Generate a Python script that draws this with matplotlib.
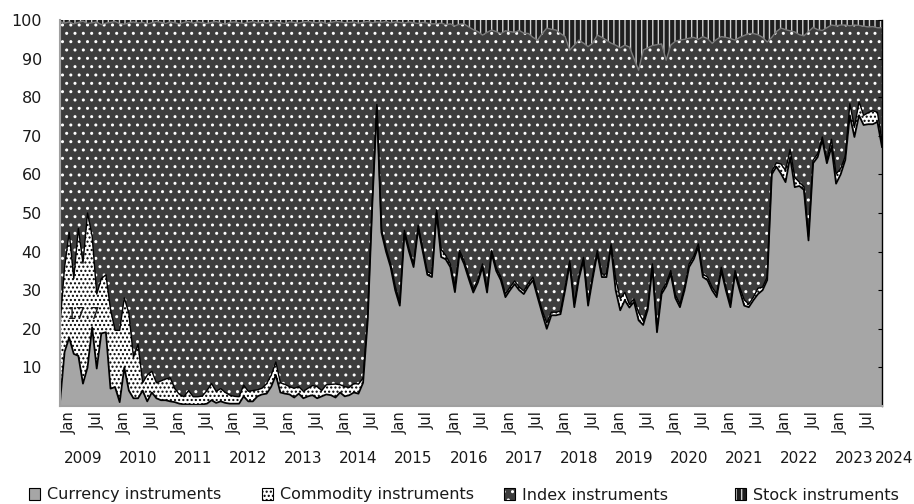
import numpy as np
import pandas as pd
import matplotlib
matplotlib.use("Agg")
import matplotlib.pyplot as plt
import matplotlib.patches as mpatches
import matplotlib.transforms as mtransforms

plt.rcParams["font.family"] = ["DejaVu Sans"]
plt.rcParams["hatch.linewidth"] = 1.0

# Monthly observations (share of outstanding instruments, %)
months = pd.date_range("2008-11-01", periods=180, freq="MS")

# one row per 12 months, starting Nov 2008
currency = [
    1.0, 14.0, 17.7, 13.5, 13.0, 5.8, 10.0, 20.4, 9.7, 18.8, 19.1, 4.5,
    4.9, 1.0, 10.0, 4.0, 2.0, 2.0, 4.0, 1.2, 3.5, 2.0, 1.5, 1.5,
    1.2, 1.0, 0.6, 0.4, 0.4, 0.3, 0.3, 0.4, 0.6, 1.5, 0.8, 1.2,
    0.8, 0.6, 0.6, 0.6, 2.5, 1.2, 1.2, 2.5, 3.0, 3.2, 5.0, 8.0,
    3.5, 3.2, 3.0, 2.2, 3.2, 2.0, 2.5, 2.8, 2.0, 2.5, 3.0, 2.8,
    2.2, 3.5, 2.5, 2.8, 3.5, 3.2, 6.0, 22.0, 52.0, 77.5, 45.0, 40.0,
    36.0, 30.0, 26.0, 44.7, 40.0, 36.0, 46.0, 40.0, 34.0, 33.4, 50.0, 38.6,
    38.0, 36.0, 29.5, 39.5, 36.8, 33.0, 29.4, 32.0, 36.0, 29.4, 39.5, 35.0,
    32.6, 28.2, 30.0, 31.6, 30.0, 29.0, 31.0, 32.6, 28.2, 24.0, 20.0, 23.5,
    23.5, 23.8, 30.0, 36.8, 25.6, 33.0, 37.7, 26.0, 33.0, 39.5, 33.4, 33.4,
    41.2, 30.0, 24.8, 27.4, 25.5, 27.0, 22.2, 21.0, 25.0, 36.0, 19.1, 29.0,
    31.0, 34.3, 28.0, 25.6, 30.0, 36.0, 38.0, 41.2, 33.4, 32.6, 30.0, 28.2,
    35.1, 30.0, 25.6, 34.3, 30.0, 26.0, 25.6, 27.4, 29.0, 30.0, 32.6, 60.0,
    62.0, 60.2, 58.0, 64.5, 56.7, 57.0, 56.0, 42.9, 62.9, 64.5, 68.9, 62.9,
    67.1, 57.6, 60.0, 63.7, 75.3, 69.7, 75.3, 72.8, 73.0, 73.0, 73.6, 67.1,
]

commodity = [
    20.0, 22.0, 27.3, 19.5, 33.0, 31.2, 40.0, 23.6, 19.3, 14.2, 14.9, 20.5,
    14.7, 18.6, 18.0, 20.0, 10.6, 14.0, 2.0, 6.8, 5.5, 4.0, 5.0, 5.5,
    6.1, 3.5, 2.4, 2.0, 3.6, 2.1, 2.1, 2.2, 3.4, 4.3, 3.0, 3.3,
    2.7, 2.2, 1.9, 1.8, 2.9, 2.6, 2.8, 1.7, 1.6, 2.6, 3.0, 3.4,
    2.5, 2.4, 2.0, 2.4, 1.8, 1.8, 2.1, 2.5, 3.0, 1.5, 2.5, 2.8,
    3.5, 2.0, 2.5, 2.0, 2.3, 2.5, 1.2, 1.0, 0.8, 0.6, 0.8, 0.8,
    0.8, 1.0, 0.8, 0.8, 0.8, 0.8, 0.8, 0.8, 0.8, 0.8, 0.8, 2.0,
    1.0, 0.8, 1.5, 0.8, 0.8, 0.8, 0.8, 0.8, 0.8, 0.8, 0.8, 0.8,
    0.8, 0.8, 0.8, 0.8, 0.8, 0.8, 0.8, 0.8, 0.8, 0.8, 1.5, 0.8,
    0.8, 0.8, 0.8, 0.8, 0.8, 0.8, 0.8, 0.8, 0.8, 0.8, 0.8, 0.8,
    0.8, 3.0, 3.0, 2.0, 0.8, 0.8, 2.0, 1.0, 0.8, 0.8, 0.8, 0.8,
    0.8, 0.8, 0.8, 0.8, 0.8, 0.8, 0.8, 0.8, 0.8, 0.8, 0.8, 0.8,
    0.8, 0.8, 0.8, 0.8, 0.8, 1.5, 0.8, 0.8, 1.5, 0.8, 0.8, 0.8,
    1.0, 2.5, 3.0, 2.0, 2.5, 1.0, 0.8, 1.0, 0.8, 0.8, 0.8, 0.8,
    2.0, 2.5, 1.5, 1.0, 3.0, 2.5, 3.5, 2.5, 3.0, 3.5, 2.5, 1.5,
]

stock = [
    0.4, 0.8, 0.5, 1.0, 0.6, 0.3, 0.9, 0.7, 0.5, 1.2, 0.8, 0.6,
    0.4, 0.9, 1.1, 0.7, 0.5, 0.8, 0.6, 1.0, 0.7, 0.4, 0.6, 0.9,
    0.5, 0.7, 1.0, 0.6, 0.4, 0.8, 0.5, 0.7, 0.9, 0.6, 0.4, 0.8,
    1.1, 0.6, 0.5, 0.7, 0.9, 0.6, 0.4, 0.7, 0.5, 0.8, 0.6, 0.4,
    0.7, 0.9, 0.5, 0.6, 0.8, 0.5, 0.4, 0.6, 0.7, 0.5, 0.9, 0.6,
    0.4, 0.5, 0.7, 0.6, 0.5, 0.8, 0.6, 0.4, 0.7, 0.5, 0.6, 0.4,
    0.7, 0.5, 0.6, 0.8, 0.5, 0.7, 0.9, 0.6, 0.8, 1.0, 1.0, 0.8,
    1.2, 1.0, 1.5, 1.1, 1.0, 1.8, 2.5, 3.0, 3.9, 3.2, 2.6, 3.0,
    3.5, 2.8, 3.0, 3.2, 2.7, 3.4, 3.5, 4.5, 5.2, 3.5, 2.1, 2.4,
    2.6, 3.5, 4.3, 7.8, 6.5, 5.2, 6.0, 6.9, 6.0, 3.9, 4.5, 5.2,
    6.0, 6.5, 7.2, 6.5, 7.0, 10.0, 13.0, 7.8, 7.2, 6.6, 6.4, 6.2,
    10.4, 6.5, 5.5, 5.2, 5.0, 4.7, 4.5, 5.0, 4.3, 4.8, 6.0, 5.0,
    4.3, 4.5, 4.8, 5.2, 4.5, 4.0, 3.5, 3.5, 3.8, 4.5, 5.7, 4.5,
    3.0, 2.1, 2.5, 2.8, 3.1, 3.8, 4.1, 3.0, 1.9, 2.5, 2.7, 2.0,
    1.3, 1.5, 1.3, 1.3, 1.5, 1.3, 1.4, 1.6, 1.8, 1.7, 2.0, 2.0,
]

# index instruments make up the remainder of each month's total
cur = np.array(currency)
com = np.array(commodity)
stk = np.array(stock)
index = 100.0 - cur - com - stk

series_names = ["Currency instruments", "Commodity instruments",
                "Index instruments", "Stock instruments"]
year_labels = [str(y) for y in range(2009, 2025)]

x = np.arange(len(months))

fig = plt.figure(figsize=(9.14, 5.04), dpi=100)
ax = fig.add_axes([60 / 914, 1 - 406 / 504, 822 / 914, 386 / 504])

styles = [
    dict(facecolor="#a6a6a6", edgecolor="#a6a6a6", hatch=None),
    dict(facecolor="white", edgecolor="black", hatch="...."),
    dict(facecolor="#3d3d3d", edgecolor="white", hatch=".."),
    dict(facecolor="#1e1e1e", edgecolor="#d0d0d0", hatch="|||"),
]

lower = np.zeros(len(x))
bounds = []
for vals, st in zip([cur, com, index, stk], styles):
    upper = lower + vals
    ax.fill_between(x, lower, upper, facecolor=st["facecolor"],
                    edgecolor=st["edgecolor"], hatch=st["hatch"],
                    linewidth=0)
    bounds.append(upper)
    lower = upper

# outlines between the bands
ax.plot(x, bounds[0], color="black", lw=1.3)
ax.plot(x, bounds[1], color="black", lw=1.0)
ax.plot(x, bounds[2], color="#7a7a7a", lw=1.0)

ax.set_xlim(0, len(x) - 1)
ax.set_ylim(0, 100)

ax.set_yticks(np.arange(10, 101, 10))
ax.tick_params(axis="y", left=False, right=True, labelleft=True,
               labelright=False, direction="in", length=3, pad=13,
               labelsize=11.5, labelcolor="#1a1a1a")

tick_pos = [i for i, m in enumerate(months) if m.month in (1, 7)]
tick_lab = [months[i].strftime("%b") for i in tick_pos]
ax.set_xticks(tick_pos)
ax.set_xticklabels(tick_lab, rotation=90, fontsize=10.5, color="#1a1a1a")
ax.tick_params(axis="x", length=0, pad=4)

trans = mtransforms.blended_transform_factory(ax.transData, ax.transAxes)
jan_pos = [i for i, m in enumerate(months) if m.month == 1]
for k, lab in enumerate(year_labels):
    pos = jan_pos[0] + 12 * k + 3
    pos = min(pos, len(x) + 1.6)
    ax.text(pos, -0.135, lab, transform=trans, ha="center", va="center",
            fontsize=11, color="#1a1a1a")

ax.annotate(f"{currency[2]:.1f}", xy=(2, currency[2]), xytext=(10, 17),
            textcoords="offset points", ha="center", va="center",
            fontsize=11, color="#1a1a1a")

for side in ("left", "bottom"):
    ax.spines[side].set_color("#a0a0a0")
    ax.spines[side].set_linewidth(1.5)
ax.spines["right"].set_color("black")
ax.spines["right"].set_linewidth(1.0)
ax.spines["top"].set_visible(False)

# legend: one entry per series, spread along the bottom
legend_x = [29, 262, 504, 735]
for name, st, lx in zip(series_names, styles, legend_x):
    base = mpatches.Patch(facecolor=st["facecolor"], edgecolor=st["edgecolor"],
                          hatch=st["hatch"], linewidth=0)
    frame = mpatches.Patch(facecolor="none", edgecolor="black", linewidth=0.8)
    fig.legend([(base, frame)], [name], loc="center left",
               bbox_to_anchor=(lx / 914, 1 - 495 / 504), frameon=False,
               fontsize=11.5, handlelength=0.7, handleheight=0.7,
               handletextpad=0.45, borderpad=0, borderaxespad=0,
               labelcolor="#1a1a1a")

fig.savefig("out.png", dpi=100)
